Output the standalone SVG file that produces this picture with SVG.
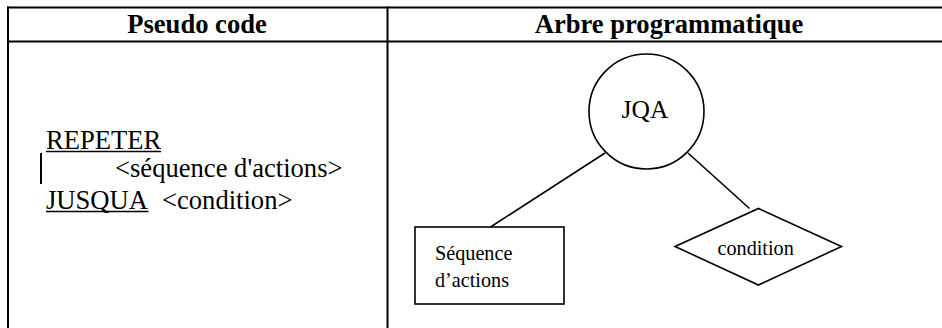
<svg xmlns="http://www.w3.org/2000/svg" width="942" height="328" viewBox="0 0 942 328">
  <style>
    .grid { stroke: #000; stroke-width: 2; fill: none; }
    .serif { font-family: "Liberation Serif", "Times New Roman", serif; fill: #000; }
    .head { font-weight: bold; font-size: 26.6px; text-anchor: middle; }
    .code { font-size: 26.6px; }
    .label { font-size: 20.2px; }
    .root { font-size: 25.5px; text-anchor: middle; }
    .shape { stroke: #000; stroke-width: 1.6; fill: #fff; }
    .edge { stroke: #000; stroke-width: 1.6; fill: none; }
    .uline { stroke: #000; stroke-width: 1.5; }
  </style>
  <rect width="942" height="328" fill="#fff"/>

  <!-- table frame and column headings -->
  <g id="table">
    <line class="grid" x1="7" y1="7.5" x2="942" y2="7.5"/>
    <line class="grid" x1="7" y1="41.5" x2="942" y2="41.5"/>
    <line class="grid" x1="8" y1="6.5" x2="8" y2="328"/>
    <line class="grid" x1="387.5" y1="6.5" x2="387.5" y2="328"/>
    <text class="serif head" x="197" y="33">Pseudo code</text>
    <text class="serif head" x="669" y="33">Arbre programmatique</text>
  </g>

  <!-- pseudo code column -->
  <g id="pseudocode">
    <text class="serif code" x="46" y="149">REPETER</text>
    <line class="uline" x1="46" y1="151.5" x2="161" y2="151.5"/>
    <line stroke="#000" stroke-width="2" x1="41" y1="153" x2="41" y2="184"/>
    <text class="serif code" x="115" y="177">&lt;séquence d'actions&gt;</text>
    <text class="serif code" x="46" y="209">JUSQUA</text>
    <line class="uline" x1="46" y1="211.5" x2="148.5" y2="211.5"/>
    <text class="serif code" x="162" y="209">&lt;condition&gt;</text>
  </g>

  <!-- tree connectors -->
  <g id="connectors">
    <line class="edge" x1="605" y1="153" x2="490.5" y2="227"/>
    <line class="edge" x1="688" y1="153" x2="749.5" y2="208.5"/>
  </g>

  <g id="node-jqa">
    <circle class="shape" cx="646.5" cy="111.5" r="57.5"/>
    <text class="serif root" x="645" y="118">JQA</text>
  </g>

  <g id="node-sequence">
    <rect class="shape" x="415" y="227" width="149" height="77"/>
    <text class="serif label" x="435" y="260">Séquence</text>
    <text class="serif label" x="435" y="286.5">d’actions</text>
  </g>

  <g id="node-condition">
    <polygon class="shape" points="675,246.5 758.5,208.5 841.5,246.5 758.5,285"/>
    <text class="serif label" x="717.5" y="255">condition</text>
  </g>
</svg>
